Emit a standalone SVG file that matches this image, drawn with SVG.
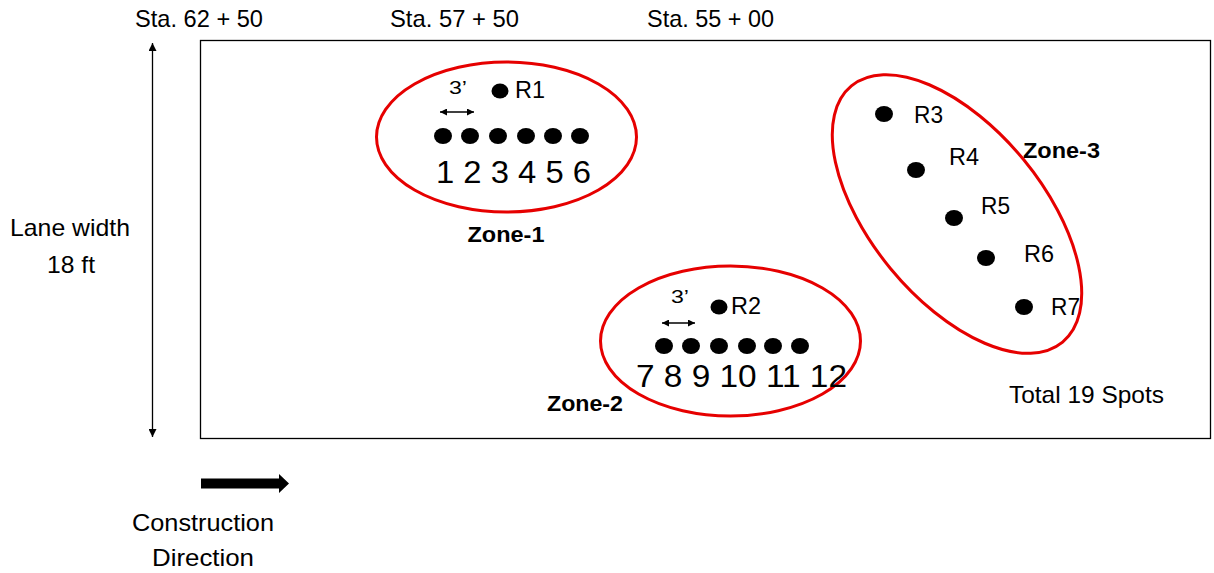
<svg xmlns="http://www.w3.org/2000/svg" width="1214" height="573" viewBox="0 0 1214 573">
<defs>
<style>
text{font-family:"Liberation Sans",Arial,sans-serif;fill:#000}
.lbl{font-size:24px}
.num{font-size:31px}
.r{font-size:24px}
.b{font-size:22px;font-weight:bold}
.ft{font-size:18px}
.zone{fill:none;stroke:#e60000;stroke-width:3}
.dot{fill:#000}
.ln{stroke:#000;stroke-width:1.3;fill:none}
</style>
<marker id="ah" viewBox="0 0 10 10" refX="10" refY="5" markerWidth="8" markerHeight="8" markerUnits="userSpaceOnUse" orient="auto-start-reverse"><path d="M0,0 L10,5 L0,10 z" fill="#000"/></marker>
<marker id="ahs" viewBox="0 0 10 10" refX="10" refY="5" markerWidth="7" markerHeight="7" markerUnits="userSpaceOnUse" orient="auto-start-reverse"><path d="M0,0 L10,5 L0,10 z" fill="#000"/></marker>
</defs>
<rect width="1214" height="573" fill="#fff"/>
<g id="lane">
<rect x="200.5" y="40.5" width="1010" height="398" fill="none" stroke="#000" stroke-width="1.3"/>
</g>
<g id="stations">
<text class="lbl" x="135" y="26.5" textLength="128" lengthAdjust="spacingAndGlyphs">Sta. 62 + 50</text>
<text class="lbl" x="390" y="26.5" textLength="129" lengthAdjust="spacingAndGlyphs">Sta. 57 + 50</text>
<text class="lbl" x="647" y="26.5" textLength="127" lengthAdjust="spacingAndGlyphs">Sta. 55 + 00</text>
</g>
<g id="connectors">
<line class="ln" x1="152.5" y1="43" x2="152.5" y2="437" marker-start="url(#ah)" marker-end="url(#ah)"/>
<line class="ln" x1="440" y1="112" x2="474" y2="112" marker-start="url(#ahs)" marker-end="url(#ahs)"/>
<line class="ln" x1="662" y1="323" x2="695" y2="323" marker-start="url(#ahs)" marker-end="url(#ahs)"/>
</g>
<g id="lane-width">
<text class="lbl" x="70" y="236" text-anchor="middle" textLength="120" lengthAdjust="spacingAndGlyphs">Lane width</text>
<text class="lbl" x="71" y="272.5" text-anchor="middle" textLength="48" lengthAdjust="spacingAndGlyphs">18 ft</text>
</g>
<g id="zone-1">
<ellipse class="zone" cx="506.5" cy="137" rx="130" ry="75"/>
<text class="ft" x="458" y="93.5" text-anchor="middle" textLength="18" lengthAdjust="spacingAndGlyphs">3’</text>
<ellipse class="dot" cx="500" cy="91" rx="8.5" ry="7.5"/>
<text class="r" x="515" y="98" textLength="30" lengthAdjust="spacingAndGlyphs">R1</text>
<ellipse class="dot" cx="443" cy="136" rx="9" ry="8"/>
<ellipse class="dot" cx="470" cy="136" rx="9" ry="8"/>
<ellipse class="dot" cx="498" cy="136" rx="9" ry="8"/>
<ellipse class="dot" cx="526" cy="136" rx="9" ry="8"/>
<ellipse class="dot" cx="553" cy="136" rx="9" ry="8"/>
<ellipse class="dot" cx="580" cy="136" rx="9" ry="8"/>
<text class="num" x="436" y="182.5" textLength="155" lengthAdjust="spacingAndGlyphs">1 2 3 4 5 6</text>
<text class="b" x="506" y="241.5" text-anchor="middle" textLength="77" lengthAdjust="spacingAndGlyphs">Zone-1</text>
</g>
<g id="zone-2">
<ellipse class="zone" cx="730.5" cy="341" rx="130" ry="75"/>
<text class="ft" x="680" y="302.5" text-anchor="middle" textLength="18" lengthAdjust="spacingAndGlyphs">3’</text>
<ellipse class="dot" cx="719" cy="307" rx="8.5" ry="7.5"/>
<text class="r" x="731" y="314" textLength="30" lengthAdjust="spacingAndGlyphs">R2</text>
<ellipse class="dot" cx="664" cy="346" rx="9" ry="8"/>
<ellipse class="dot" cx="691" cy="346" rx="9" ry="8"/>
<ellipse class="dot" cx="719" cy="346" rx="9" ry="8"/>
<ellipse class="dot" cx="747" cy="346" rx="9" ry="8"/>
<ellipse class="dot" cx="773" cy="346" rx="9" ry="8"/>
<ellipse class="dot" cx="800" cy="346" rx="9" ry="8"/>
<text class="num" x="636" y="387" textLength="211" lengthAdjust="spacingAndGlyphs">7 8 9 10 11 12</text>
<text class="b" x="547" y="411" textLength="76" lengthAdjust="spacingAndGlyphs">Zone-2</text>
</g>
<g id="zone-3">
<ellipse class="zone" cx="957" cy="214" rx="166" ry="86" transform="rotate(50.5 957 214)"/>
<ellipse class="dot" cx="884" cy="114" rx="9" ry="8"/>
<ellipse class="dot" cx="916" cy="170" rx="9" ry="8"/>
<ellipse class="dot" cx="954" cy="218" rx="9" ry="8"/>
<ellipse class="dot" cx="986" cy="258" rx="9" ry="8"/>
<ellipse class="dot" cx="1024" cy="307" rx="9" ry="8"/>
<text class="r" x="914" y="123" textLength="29" lengthAdjust="spacingAndGlyphs">R3</text>
<text class="r" x="949" y="165" textLength="30" lengthAdjust="spacingAndGlyphs">R4</text>
<text class="r" x="981" y="214" textLength="29" lengthAdjust="spacingAndGlyphs">R5</text>
<text class="r" x="1024" y="262" textLength="30" lengthAdjust="spacingAndGlyphs">R6</text>
<text class="r" x="1051" y="315" textLength="29" lengthAdjust="spacingAndGlyphs">R7</text>
<text class="b" x="1023" y="158" textLength="77" lengthAdjust="spacingAndGlyphs">Zone-3</text>
</g>
<g id="total">
<text class="lbl" x="1009" y="403" textLength="155" lengthAdjust="spacingAndGlyphs">Total 19 Spots</text>
</g>
<g id="construction-direction">
<path d="M201,478.5 H279 V474 L289,483.5 L279,493 V488.5 H201 Z" fill="#000"/>
<text class="lbl" x="203" y="531" text-anchor="middle" textLength="142" lengthAdjust="spacingAndGlyphs">Construction</text>
<text class="lbl" x="203" y="566" text-anchor="middle" textLength="102" lengthAdjust="spacingAndGlyphs">Direction</text>
</g>
</svg>
